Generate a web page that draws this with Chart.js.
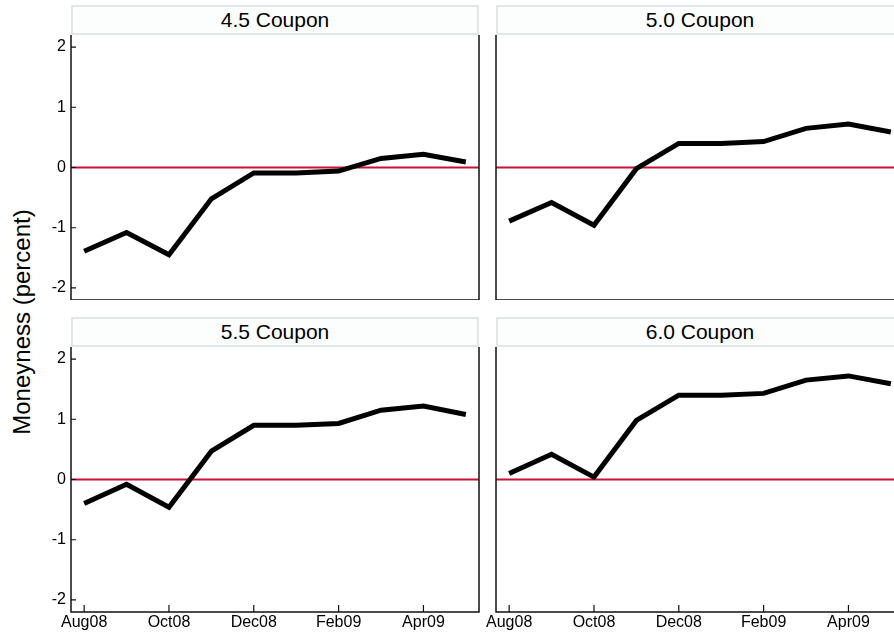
<!DOCTYPE html>
<html>
<head>
<meta charset="utf-8">
<script src="https://cdn.jsdelivr.net/npm/chart.js@4.4.1/dist/chart.umd.min.js"></script>
<style>
  html, body { margin: 0; padding: 0; width: 894px; height: 635px; overflow: hidden; background: #fff; }
  .box { position: absolute; }
  .strip {
    position: absolute; box-sizing: border-box; height: 30px;
    border: 2px solid #e0e6e9; background: #fcfdfd;
    font: 21px "Liberation Sans", Arial, sans-serif; color: #000;
    text-align: center; line-height: 26px;
  }
  #ytitle {
    position: absolute; left: 22px; top: 322px; white-space: nowrap;
    transform: translate(-50%, -50%) rotate(-90deg);
    font: 24px "Liberation Sans", Arial, sans-serif; color: #000;
  }
</style>
</head>
<body>
<div id="ytitle">Moneyness (percent)</div>

<script>
// Data
const months = ['Aug08', 'Sep08', 'Oct08', 'Nov08', 'Dec08', 'Jan09', 'Feb09', 'Mar09', 'Apr09', 'May09'];
const tickMonths = ['Aug08', 'Oct08', 'Dec08', 'Feb09', 'Apr09'];
const yTicks = [-2, -1, 0, 1, 2];
const coupon45 = [-1.39, -1.08, -1.45, -0.52, -0.09, -0.09, -0.06, 0.15, 0.22, 0.09];
const coupon50 = [-0.89, -0.58, -0.96, -0.02, 0.40, 0.40, 0.43, 0.65, 0.72, 0.59];
const coupon55 = [-0.40, -0.08, -0.46, 0.47, 0.90, 0.90, 0.93, 1.15, 1.22, 1.08];
const coupon60 = [0.10, 0.42, 0.04, 0.98, 1.40, 1.40, 1.43, 1.65, 1.72, 1.59];

// Panel layout (chart area edges in page pixels)
const panels = [
    { title: '4.5 Coupon', values: coupon45, x0: 71,  x1: 479, y0: 35,  y1: 300, yLabels: true,  xLabels: false },
    { title: '5.0 Coupon', values: coupon50, x0: 496, x1: 904, y0: 35,  y1: 300, yLabels: false, xLabels: false },
    { title: '5.5 Coupon', values: coupon55, x0: 71,  x1: 479, y0: 347, y1: 612, yLabels: true,  xLabels: true },
    { title: '6.0 Coupon', values: coupon60, x0: 496, x1: 904, y0: 347, y1: 612, yLabels: false, xLabels: true }
];
const PAD = 4;
const FONT = '"Liberation Sans", Arial, sans-serif';

// no automatic label padding: chart area is fixed by the layout above
function noPadding(s) {
    s.paddingTop = 0;
    s.paddingBottom = 0;
    s.paddingLeft = 0;
    s.paddingRight = 0;
}

// zero line, frame and inward ticks
const framePlugin = {
    id: 'frame',
    beforeDatasetsDraw(chart) {
        const { ctx, chartArea: a, scales } = chart;
        const y0 = scales.y.getPixelForValue(0);
        ctx.save();
        ctx.strokeStyle = '#cc1138';
        ctx.lineWidth = 1.8;
        ctx.beginPath();
        ctx.moveTo(a.left, y0);
        ctx.lineTo(a.right, y0);
        ctx.stroke();
        ctx.restore();
    },
    afterDraw(chart, args, opts) {
        const { ctx, chartArea: a, scales } = chart;
        ctx.save();
        ctx.strokeStyle = '#111';
        ctx.lineWidth = 1.5;
        ctx.beginPath();
        ctx.moveTo(a.left, a.top);
        ctx.lineTo(a.left, a.bottom);
        ctx.lineTo(a.right, a.bottom);
        ctx.lineTo(a.right, a.top);
        ctx.stroke();
        ctx.lineWidth = 1.2;
        ctx.beginPath();
        if (opts.yTicks) {
            scales.y.ticks.forEach(t => {
                const py = scales.y.getPixelForValue(t.value);
                ctx.moveTo(a.left, py);
                ctx.lineTo(a.left + 5, py);
            });
        }
        if (opts.xTicks) {
            scales.x.ticks.forEach(t => {
                const px = scales.x.getPixelForValue(t.value);
                ctx.moveTo(px, a.bottom);
                ctx.lineTo(px, a.bottom - 7);
            });
        }
        ctx.stroke();
        ctx.restore();
    }
};

function makePanel(p, i) {
    const yw = p.yLabels ? p.x0 : 16;
    const xh = p.xLabels ? 24 : 0;

    const box = document.createElement('div');
    box.className = 'box';
    box.style.left = (p.x0 - yw) + 'px';
    box.style.top = (p.y0 - PAD) + 'px';
    box.style.width = (yw + p.x1 - p.x0 + PAD) + 'px';
    box.style.height = (PAD + p.y1 - p.y0 + xh) + 'px';
    const canvas = document.createElement('canvas');
    canvas.id = 'panel' + i;
    box.appendChild(canvas);
    document.body.appendChild(box);

    const strip = document.createElement('div');
    strip.className = 'strip';
    strip.style.left = p.x0 + 'px';
    strip.style.top = (p.y0 - 30) + 'px';
    strip.style.width = (p.x1 - p.x0) + 'px';
    strip.innerText = p.title;
    document.body.appendChild(strip);

    new Chart(canvas.getContext('2d'), {
        type: 'line',
        data: {
            datasets: [{
                data: p.values.map((v, k) => ({ x: k, y: v })),
                borderColor: '#000',
                borderWidth: 5,
                borderJoinStyle: 'miter',
                pointRadius: 0,
                tension: 0,
                fill: false
            }]
        },
        options: {
            responsive: true,
            maintainAspectRatio: false,
            animation: false,
            layout: { padding: { top: PAD, right: PAD, left: 0, bottom: 0 } },
            plugins: {
                legend: { display: false },
                tooltip: { enabled: false },
                frame: { yTicks: p.yLabels, xTicks: p.xLabels }
            },
            scales: {
                x: {
                    type: 'linear',
                    min: -0.31,
                    max: 9.31,
                    grid: { display: false, drawTicks: false },
                    border: { display: false },
                    afterBuildTicks: s => { s.ticks = tickMonths.map(m => ({ value: months.indexOf(m) })); },
                    afterFit: s => { s.height = xh; noPadding(s); },
                    ticks: {
                        display: p.xLabels,
                        autoSkip: false,
                        maxRotation: 0,
                        padding: 1,
                        color: '#000',
                        font: { family: FONT, size: 16 },
                        callback: v => months[v]
                    }
                },
                y: {
                    min: -2.2,
                    max: 2.2,
                    grid: { display: false, drawTicks: false },
                    border: { display: false },
                    afterBuildTicks: s => { s.ticks = yTicks.map(v => ({ value: v })); },
                    afterFit: s => { s.width = yw; noPadding(s); },
                    ticks: {
                        display: p.yLabels,
                        padding: 5,
                        color: '#000',
                        font: { family: FONT, size: 16 }
                    }
                }
            }
        },
        plugins: [framePlugin]
    });
}

panels.forEach(makePanel);
</script>
</body>
</html>
